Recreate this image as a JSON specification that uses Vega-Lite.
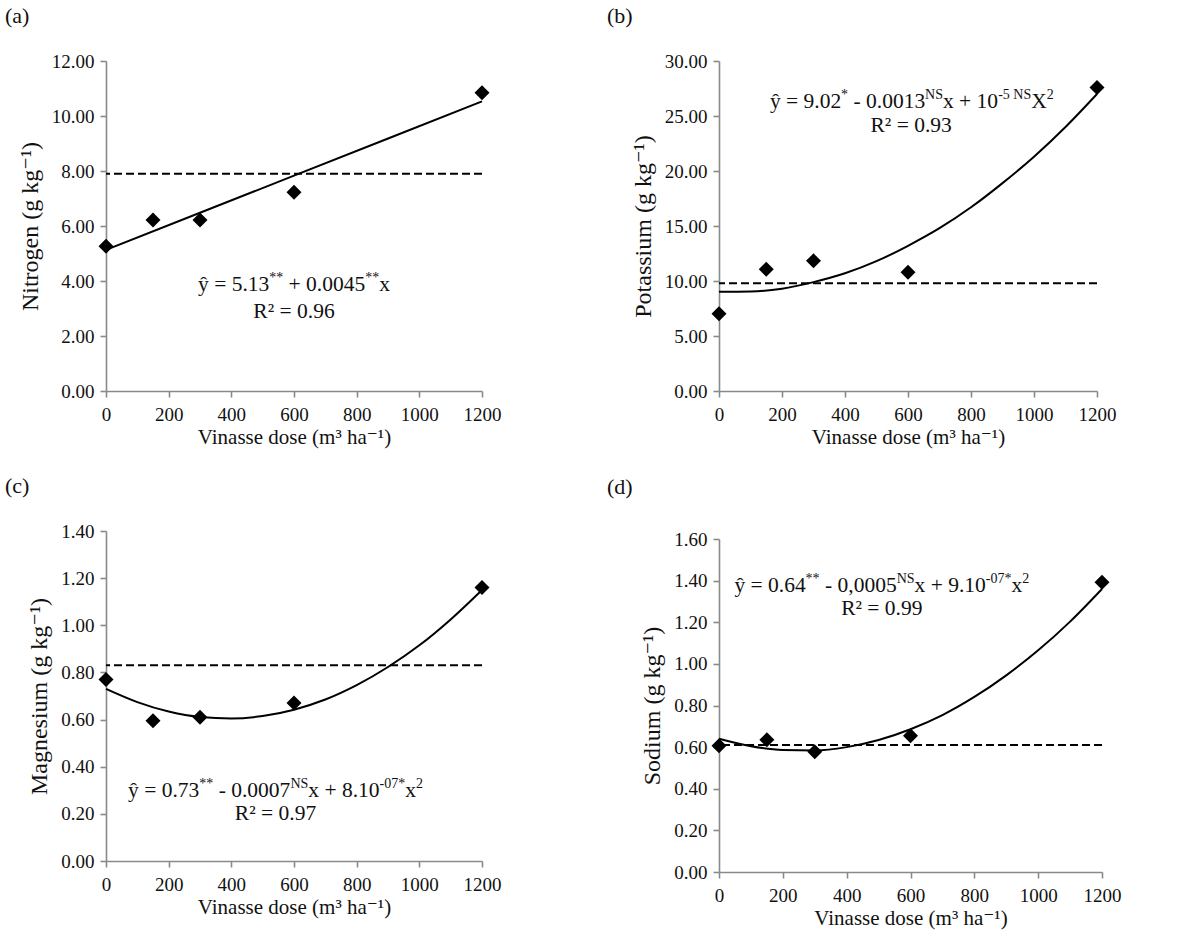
{
  "$schema": "https://vega.github.io/schema/vega-lite/v6.json",
  "padding": {"left": 5, "top": 5, "right": 5, "bottom": 5},
  "background": "white",
  "spacing": 106,
  "datasets": {
    "pts": [
      {"panel": "a", "dose": 0, "value": 5.26},
      {"panel": "a", "dose": 150, "value": 6.22},
      {"panel": "a", "dose": 300, "value": 6.22},
      {"panel": "a", "dose": 600, "value": 7.23},
      {"panel": "a", "dose": 1200, "value": 10.85},
      {"panel": "b", "dose": 0, "value": 7.02},
      {"panel": "b", "dose": 150, "value": 11.07},
      {"panel": "b", "dose": 300, "value": 11.83},
      {"panel": "b", "dose": 600, "value": 10.8},
      {"panel": "b", "dose": 1200, "value": 27.6},
      {"panel": "c", "dose": 0, "value": 0.77},
      {"panel": "c", "dose": 150, "value": 0.595},
      {"panel": "c", "dose": 300, "value": 0.61},
      {"panel": "c", "dose": 600, "value": 0.67},
      {"panel": "c", "dose": 1200, "value": 1.16},
      {"panel": "d", "dose": 0, "value": 0.607},
      {"panel": "d", "dose": 150, "value": 0.635},
      {"panel": "d", "dose": 300, "value": 0.578},
      {"panel": "d", "dose": 600, "value": 0.655},
      {"panel": "d", "dose": 1200, "value": 1.392}
    ],
    "fit": [
      {"panel": "a", "dose": 0, "value": 5.13},
      {"panel": "a", "dose": 600, "value": 7.83},
      {"panel": "a", "dose": 1200, "value": 10.53},
      {"panel": "b", "dose": 0, "value": 9.02},
      {"panel": "b", "dose": 100, "value": 9.05},
      {"panel": "b", "dose": 200, "value": 9.3},
      {"panel": "b", "dose": 300, "value": 9.9},
      {"panel": "b", "dose": 400, "value": 10.7},
      {"panel": "b", "dose": 500, "value": 11.8},
      {"panel": "b", "dose": 600, "value": 13.2},
      {"panel": "b", "dose": 700, "value": 14.8},
      {"panel": "b", "dose": 800, "value": 16.7},
      {"panel": "b", "dose": 900, "value": 18.9},
      {"panel": "b", "dose": 1000, "value": 21.3},
      {"panel": "b", "dose": 1100, "value": 24.0},
      {"panel": "b", "dose": 1200, "value": 27.0},
      {"panel": "c", "dose": 0, "value": 0.73},
      {"panel": "c", "dose": 100, "value": 0.674},
      {"panel": "c", "dose": 200, "value": 0.634},
      {"panel": "c", "dose": 300, "value": 0.611},
      {"panel": "c", "dose": 400, "value": 0.605},
      {"panel": "c", "dose": 500, "value": 0.615},
      {"panel": "c", "dose": 600, "value": 0.642},
      {"panel": "c", "dose": 700, "value": 0.685},
      {"panel": "c", "dose": 800, "value": 0.746},
      {"panel": "c", "dose": 900, "value": 0.823},
      {"panel": "c", "dose": 1000, "value": 0.915},
      {"panel": "c", "dose": 1100, "value": 1.025},
      {"panel": "c", "dose": 1200, "value": 1.15},
      {"panel": "d", "dose": 0, "value": 0.64},
      {"panel": "d", "dose": 100, "value": 0.604},
      {"panel": "d", "dose": 200, "value": 0.586},
      {"panel": "d", "dose": 300, "value": 0.584},
      {"panel": "d", "dose": 400, "value": 0.6},
      {"panel": "d", "dose": 500, "value": 0.634},
      {"panel": "d", "dose": 600, "value": 0.686},
      {"panel": "d", "dose": 700, "value": 0.754},
      {"panel": "d", "dose": 800, "value": 0.841},
      {"panel": "d", "dose": 900, "value": 0.945},
      {"panel": "d", "dose": 1000, "value": 1.065},
      {"panel": "d", "dose": 1100, "value": 1.203},
      {"panel": "d", "dose": 1200, "value": 1.36}
    ],
    "ref": [
      {"panel": "a", "value": 7.9},
      {"panel": "b", "value": 9.8},
      {"panel": "c", "value": 0.83},
      {"panel": "d", "value": 0.61}
    ]
  },
  "hconcat": [
    {
      "vconcat": [
        {
          "title": {"text": "(a)", "dx": -101, "offset": 24},
          "width": 376, "height": 330,
          "layer": [
            {"data": {"name": "ref"}, "transform": [{"filter": "datum.panel === 'a'"}],
             "mark": {"type": "rule", "color": "black", "strokeWidth": 2, "strokeDash": [8, 4]},
             "encoding": {"y": {"field": "value", "type": "quantitative", "scale": {"domain": [0, 12], "nice": false}, "title": "Nitrogen  (g kg⁻¹)", "axis": {"values": [0, 2, 4, 6, 8, 10, 12], "format": ".2f"}}}},
            {"data": {"name": "fit"}, "transform": [{"filter": "datum.panel === 'a'"}],
             "mark": {"type": "line", "color": "black", "strokeWidth": 2, "interpolate": "monotone"},
             "encoding": {
               "x": {"field": "dose", "type": "quantitative", "scale": {"domain": [0, 1200], "nice": false}, "title": "Vinasse dose (m³ ha⁻¹)", "axis": {"values": [0, 200, 400, 600, 800, 1000, 1200], "format": "d"}},
               "y": {"field": "value", "type": "quantitative", "title": "Nitrogen  (g kg⁻¹)"}}},
            {"data": {"name": "pts"}, "transform": [{"filter": "datum.panel === 'a'"}],
             "mark": {"type": "point", "shape": "diamond", "filled": true, "color": "black", "opacity": 1, "size": 225},
             "encoding": {
               "x": {"field": "dose", "type": "quantitative", "title": "Vinasse dose (m³ ha⁻¹)"},
               "y": {"field": "value", "type": "quantitative", "title": "Nitrogen  (g kg⁻¹)"}}},
            {"data": {"values": [{}]}, "mark": {"type": "text", "align": "left", "baseline": "alphabetic", "fontSize": 21.5, "dx": -96, "dy": 7, "text": "ŷ = 5.13"}, "encoding": {"x": {"datum": 600, "type": "quantitative"}, "y": {"datum": 3.88, "type": "quantitative"}}},
            {"data": {"values": [{}]}, "mark": {"type": "text", "align": "left", "baseline": "alphabetic", "fontSize": 14, "dx": -24.75, "dy": -2, "text": "**"}, "encoding": {"x": {"datum": 600, "type": "quantitative"}, "y": {"datum": 3.88, "type": "quantitative"}}},
            {"data": {"values": [{}]}, "mark": {"type": "text", "align": "left", "baseline": "alphabetic", "fontSize": 21.5, "dx": -5.4, "dy": 7, "text": "+ 0.0045"}, "encoding": {"x": {"datum": 600, "type": "quantitative"}, "y": {"datum": 3.88, "type": "quantitative"}}},
            {"data": {"values": [{}]}, "mark": {"type": "text", "align": "left", "baseline": "alphabetic", "fontSize": 14, "dx": 71.25, "dy": -2, "text": "**"}, "encoding": {"x": {"datum": 600, "type": "quantitative"}, "y": {"datum": 3.88, "type": "quantitative"}}},
            {"data": {"values": [{}]}, "mark": {"type": "text", "align": "left", "baseline": "alphabetic", "fontSize": 21.5, "dx": 85.25, "dy": 7, "text": "x"}, "encoding": {"x": {"datum": 600, "type": "quantitative"}, "y": {"datum": 3.88, "type": "quantitative"}}},
            {"data": {"values": [{}]}, "mark": {"type": "text", "align": "center", "baseline": "alphabetic", "fontSize": 21.5, "dy": 7, "text": "R² = 0.96"}, "encoding": {"x": {"datum": 600, "type": "quantitative"}, "y": {"datum": 2.91, "type": "quantitative"}}}
          ]
        },
        {
          "title": {"text": "(c)", "dx": -101, "offset": 24},
          "width": 376, "height": 330,
          "layer": [
            {"data": {"name": "ref"}, "transform": [{"filter": "datum.panel === 'c'"}],
             "mark": {"type": "rule", "color": "black", "strokeWidth": 2, "strokeDash": [8, 4]},
             "encoding": {"y": {"field": "value", "type": "quantitative", "scale": {"domain": [0, 1.4], "nice": false}, "title": "Magnesium (g kg⁻¹)", "axis": {"values": [0, 0.2, 0.4, 0.6, 0.8, 1.0, 1.2, 1.4], "format": ".2f"}}}},
            {"data": {"name": "fit"}, "transform": [{"filter": "datum.panel === 'c'"}],
             "mark": {"type": "line", "color": "black", "strokeWidth": 2, "interpolate": "monotone"},
             "encoding": {
               "x": {"field": "dose", "type": "quantitative", "scale": {"domain": [0, 1200], "nice": false}, "title": "Vinasse dose (m³ ha⁻¹)", "axis": {"values": [0, 200, 400, 600, 800, 1000, 1200], "format": "d"}},
               "y": {"field": "value", "type": "quantitative", "title": "Magnesium (g kg⁻¹)"}}},
            {"data": {"name": "pts"}, "transform": [{"filter": "datum.panel === 'c'"}],
             "mark": {"type": "point", "shape": "diamond", "filled": true, "color": "black", "opacity": 1, "size": 225},
             "encoding": {
               "x": {"field": "dose", "type": "quantitative", "title": "Vinasse dose (m³ ha⁻¹)"},
               "y": {"field": "value", "type": "quantitative", "title": "Magnesium (g kg⁻¹)"}}},
            {"data": {"values": [{}]}, "mark": {"type": "text", "align": "left", "baseline": "alphabetic", "fontSize": 21.5, "dx": -147.4, "dy": 7, "text": "ŷ = 0.73"}, "encoding": {"x": {"datum": 541, "type": "quantitative"}, "y": {"datum": 0.3, "type": "quantitative"}}},
            {"data": {"values": [{}]}, "mark": {"type": "text", "align": "left", "baseline": "alphabetic", "fontSize": 14, "dx": -76.2, "dy": -2, "text": "**"}, "encoding": {"x": {"datum": 541, "type": "quantitative"}, "y": {"datum": 0.3, "type": "quantitative"}}},
            {"data": {"values": [{}]}, "mark": {"type": "text", "align": "left", "baseline": "alphabetic", "fontSize": 21.5, "dx": -56.8, "dy": 7, "text": "- 0.0007"}, "encoding": {"x": {"datum": 541, "type": "quantitative"}, "y": {"datum": 0.3, "type": "quantitative"}}},
            {"data": {"values": [{}]}, "mark": {"type": "text", "align": "left", "baseline": "alphabetic", "fontSize": 14, "dx": 14.9, "dy": -2, "text": "NS"}, "encoding": {"x": {"datum": 541, "type": "quantitative"}, "y": {"datum": 0.3, "type": "quantitative"}}},
            {"data": {"values": [{}]}, "mark": {"type": "text", "align": "left", "baseline": "alphabetic", "fontSize": 21.5, "dx": 32.75, "dy": 7, "text": "x + 8.10"}, "encoding": {"x": {"datum": 541, "type": "quantitative"}, "y": {"datum": 0.3, "type": "quantitative"}}},
            {"data": {"values": [{}]}, "mark": {"type": "text", "align": "left", "baseline": "alphabetic", "fontSize": 14, "dx": 104.0, "dy": -2, "text": "-07*"}, "encoding": {"x": {"datum": 541, "type": "quantitative"}, "y": {"datum": 0.3, "type": "quantitative"}}},
            {"data": {"values": [{}]}, "mark": {"type": "text", "align": "left", "baseline": "alphabetic", "fontSize": 21.5, "dx": 129.7, "dy": 7, "text": "x"}, "encoding": {"x": {"datum": 541, "type": "quantitative"}, "y": {"datum": 0.3, "type": "quantitative"}}},
            {"data": {"values": [{}]}, "mark": {"type": "text", "align": "left", "baseline": "alphabetic", "fontSize": 14, "dx": 140.4, "dy": -2, "text": "2"}, "encoding": {"x": {"datum": 541, "type": "quantitative"}, "y": {"datum": 0.3, "type": "quantitative"}}},
            {"data": {"values": [{}]}, "mark": {"type": "text", "align": "center", "baseline": "alphabetic", "fontSize": 21.5, "dy": 7, "text": "R² = 0.97"}, "encoding": {"x": {"datum": 541, "type": "quantitative"}, "y": {"datum": 0.205, "type": "quantitative"}}}
          ]
        }
      ],
      "spacing": 140,
      "bounds": "flush"
    },
    {
      "vconcat": [
        {
          "title": {"text": "(b)", "dx": -112, "offset": 24},
          "width": 378, "height": 330,
          "layer": [
            {"data": {"name": "ref"}, "transform": [{"filter": "datum.panel === 'b'"}],
             "mark": {"type": "rule", "color": "black", "strokeWidth": 2, "strokeDash": [8, 4]},
             "encoding": {"y": {"field": "value", "type": "quantitative", "scale": {"domain": [0, 30], "nice": false}, "title": "Potassium (g kg⁻¹)", "axis": {"values": [0, 5, 10, 15, 20, 25, 30], "format": ".2f"}}}},
            {"data": {"name": "fit"}, "transform": [{"filter": "datum.panel === 'b'"}],
             "mark": {"type": "line", "color": "black", "strokeWidth": 2, "interpolate": "monotone"},
             "encoding": {
               "x": {"field": "dose", "type": "quantitative", "scale": {"domain": [0, 1200], "nice": false}, "title": "Vinasse dose (m³ ha⁻¹)", "axis": {"values": [0, 200, 400, 600, 800, 1000, 1200], "format": "d"}},
               "y": {"field": "value", "type": "quantitative", "title": "Potassium (g kg⁻¹)"}}},
            {"data": {"name": "pts"}, "transform": [{"filter": "datum.panel === 'b'"}],
             "mark": {"type": "point", "shape": "diamond", "filled": true, "color": "black", "opacity": 1, "size": 225},
             "encoding": {
               "x": {"field": "dose", "type": "quantitative", "title": "Vinasse dose (m³ ha⁻¹)"},
               "y": {"field": "value", "type": "quantitative", "title": "Potassium (g kg⁻¹)"}}},
            {"data": {"values": [{}]}, "mark": {"type": "text", "align": "left", "baseline": "alphabetic", "fontSize": 21.5, "dx": -141.9, "dy": 7, "text": "ŷ = 9.02"}, "encoding": {"x": {"datum": 612, "type": "quantitative"}, "y": {"datum": 26.4, "type": "quantitative"}}},
            {"data": {"values": [{}]}, "mark": {"type": "text", "align": "left", "baseline": "alphabetic", "fontSize": 14, "dx": -70.7, "dy": -2, "text": "*"}, "encoding": {"x": {"datum": 612, "type": "quantitative"}, "y": {"datum": 26.4, "type": "quantitative"}}},
            {"data": {"values": [{}]}, "mark": {"type": "text", "align": "left", "baseline": "alphabetic", "fontSize": 21.5, "dx": -58.3, "dy": 7, "text": "- 0.0013"}, "encoding": {"x": {"datum": 612, "type": "quantitative"}, "y": {"datum": 26.4, "type": "quantitative"}}},
            {"data": {"values": [{}]}, "mark": {"type": "text", "align": "left", "baseline": "alphabetic", "fontSize": 14, "dx": 13.3, "dy": -2, "text": "NS"}, "encoding": {"x": {"datum": 612, "type": "quantitative"}, "y": {"datum": 26.4, "type": "quantitative"}}},
            {"data": {"values": [{}]}, "mark": {"type": "text", "align": "left", "baseline": "alphabetic", "fontSize": 21.5, "dx": 31.2, "dy": 7, "text": "x + 10"}, "encoding": {"x": {"datum": 612, "type": "quantitative"}, "y": {"datum": 26.4, "type": "quantitative"}}},
            {"data": {"values": [{}]}, "mark": {"type": "text", "align": "left", "baseline": "alphabetic", "fontSize": 14, "dx": 86.4, "dy": -2, "text": "-5 NS"}, "encoding": {"x": {"datum": 612, "type": "quantitative"}, "y": {"datum": 26.4, "type": "quantitative"}}},
            {"data": {"values": [{}]}, "mark": {"type": "text", "align": "left", "baseline": "alphabetic", "fontSize": 21.5, "dx": 119.4, "dy": 7, "text": "X"}, "encoding": {"x": {"datum": 612, "type": "quantitative"}, "y": {"datum": 26.4, "type": "quantitative"}}},
            {"data": {"values": [{}]}, "mark": {"type": "text", "align": "left", "baseline": "alphabetic", "fontSize": 14, "dx": 134.9, "dy": -2, "text": "2"}, "encoding": {"x": {"datum": 612, "type": "quantitative"}, "y": {"datum": 26.4, "type": "quantitative"}}},
            {"data": {"values": [{}]}, "mark": {"type": "text", "align": "center", "baseline": "alphabetic", "fontSize": 21.5, "dy": 7, "text": "R² = 0.93"}, "encoding": {"x": {"datum": 610, "type": "quantitative"}, "y": {"datum": 24.2, "type": "quantitative"}}}
          ]
        },
        {
          "title": {"text": "(d)", "dx": -112, "offset": 31},
          "width": 383, "height": 333,
          "layer": [
            {"data": {"name": "ref"}, "transform": [{"filter": "datum.panel === 'd'"}],
             "mark": {"type": "rule", "color": "black", "strokeWidth": 2, "strokeDash": [8, 4]},
             "encoding": {"y": {"field": "value", "type": "quantitative", "scale": {"domain": [0, 1.6], "nice": false}, "title": "Sodium (g  kg⁻¹)", "axis": {"values": [0, 0.2, 0.4, 0.6, 0.8, 1.0, 1.2, 1.4, 1.6], "format": ".2f"}}}},
            {"data": {"name": "fit"}, "transform": [{"filter": "datum.panel === 'd'"}],
             "mark": {"type": "line", "color": "black", "strokeWidth": 2, "interpolate": "monotone"},
             "encoding": {
               "x": {"field": "dose", "type": "quantitative", "scale": {"domain": [0, 1200], "nice": false}, "title": "Vinasse dose (m³ ha⁻¹)", "axis": {"values": [0, 200, 400, 600, 800, 1000, 1200], "format": "d"}},
               "y": {"field": "value", "type": "quantitative", "title": "Sodium (g  kg⁻¹)"}}},
            {"data": {"name": "pts"}, "transform": [{"filter": "datum.panel === 'd'"}],
             "mark": {"type": "point", "shape": "diamond", "filled": true, "color": "black", "opacity": 1, "size": 225},
             "encoding": {
               "x": {"field": "dose", "type": "quantitative", "title": "Vinasse dose (m³ ha⁻¹)"},
               "y": {"field": "value", "type": "quantitative", "title": "Sodium (g  kg⁻¹)"}}},
            {"data": {"values": [{}]}, "mark": {"type": "text", "align": "left", "baseline": "alphabetic", "fontSize": 21.5, "dx": -147.4, "dy": 7, "text": "ŷ = 0.64"}, "encoding": {"x": {"datum": 510, "type": "quantitative"}, "y": {"datum": 1.38, "type": "quantitative"}}},
            {"data": {"values": [{}]}, "mark": {"type": "text", "align": "left", "baseline": "alphabetic", "fontSize": 14, "dx": -76.2, "dy": -2, "text": "**"}, "encoding": {"x": {"datum": 510, "type": "quantitative"}, "y": {"datum": 1.38, "type": "quantitative"}}},
            {"data": {"values": [{}]}, "mark": {"type": "text", "align": "left", "baseline": "alphabetic", "fontSize": 21.5, "dx": -56.8, "dy": 7, "text": "- 0,0005"}, "encoding": {"x": {"datum": 510, "type": "quantitative"}, "y": {"datum": 1.38, "type": "quantitative"}}},
            {"data": {"values": [{}]}, "mark": {"type": "text", "align": "left", "baseline": "alphabetic", "fontSize": 14, "dx": 14.9, "dy": -2, "text": "NS"}, "encoding": {"x": {"datum": 510, "type": "quantitative"}, "y": {"datum": 1.38, "type": "quantitative"}}},
            {"data": {"values": [{}]}, "mark": {"type": "text", "align": "left", "baseline": "alphabetic", "fontSize": 21.5, "dx": 32.75, "dy": 7, "text": "x + 9.10"}, "encoding": {"x": {"datum": 510, "type": "quantitative"}, "y": {"datum": 1.38, "type": "quantitative"}}},
            {"data": {"values": [{}]}, "mark": {"type": "text", "align": "left", "baseline": "alphabetic", "fontSize": 14, "dx": 104.0, "dy": -2, "text": "-07*"}, "encoding": {"x": {"datum": 510, "type": "quantitative"}, "y": {"datum": 1.38, "type": "quantitative"}}},
            {"data": {"values": [{}]}, "mark": {"type": "text", "align": "left", "baseline": "alphabetic", "fontSize": 21.5, "dx": 129.7, "dy": 7, "text": "x"}, "encoding": {"x": {"datum": 510, "type": "quantitative"}, "y": {"datum": 1.38, "type": "quantitative"}}},
            {"data": {"values": [{}]}, "mark": {"type": "text", "align": "left", "baseline": "alphabetic", "fontSize": 14, "dx": 140.4, "dy": -2, "text": "2"}, "encoding": {"x": {"datum": 510, "type": "quantitative"}, "y": {"datum": 1.38, "type": "quantitative"}}},
            {"data": {"values": [{}]}, "mark": {"type": "text", "align": "center", "baseline": "alphabetic", "fontSize": 21.5, "dy": 7, "text": "R² = 0.99"}, "encoding": {"x": {"datum": 510, "type": "quantitative"}, "y": {"datum": 1.27, "type": "quantitative"}}}
          ]
        }
      ],
      "spacing": 148,
      "bounds": "flush"
    }
  ],
  "config": {
    "view": {"stroke": null},
    "font": "Liberation Serif, Times New Roman, DejaVu Serif, serif",
    "text": {"font": "Liberation Serif, Times New Roman, DejaVu Serif, serif", "color": "#111"},
    "axis": {
      "grid": false,
      "domainColor": "#8a8a8a", "domainWidth": 1.6,
      "tickColor": "#8a8a8a", "tickWidth": 1.6, "tickSize": 6,
      "labelFont": "Liberation Serif, Times New Roman, DejaVu Serif, serif", "labelFontSize": 19, "labelColor": "#111",
      "titleFont": "Liberation Serif, Times New Roman, DejaVu Serif, serif", "titleFontSize": 21, "titleFontWeight": "normal", "titleColor": "#111"
    },
    "axisX": {"labelPadding": 8, "titlePadding": 2, "labelFlush": false},
    "axisY": {"labelPadding": 6, "titlePadding": 9, "titleFontSize": 24},
    "title": {"font": "Liberation Serif, Times New Roman, DejaVu Serif, serif", "fontSize": 22, "fontWeight": "normal", "anchor": "start", "frame": "group", "color": "#111"}
  }
}
